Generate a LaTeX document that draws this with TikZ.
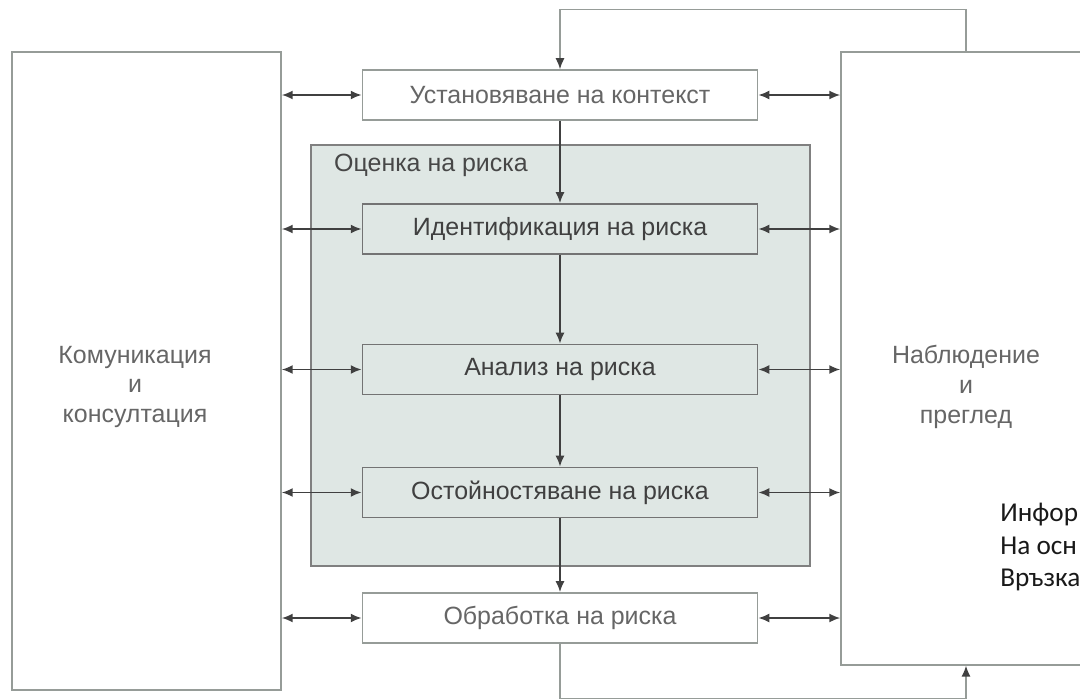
\documentclass[tikz,border=0pt]{standalone}
\usepackage{fontspec}
\setmainfont{Liberation Sans}
\newfontfamily\notefont{Carlito}
\usetikzlibrary{arrows.meta, positioning}
\definecolor{assessfill}{RGB}{223,231,228}
\definecolor{frameline}{RGB}{150,156,152}

\begin{document}
\begin{tikzpicture}[x=0.02cm, y=-0.02cm,
                    every node/.style={font=\fontsize{14.2}{17}\selectfont},
                    bigbox/.style={draw=frameline, line width=0.8pt, fill=white,
                                   minimum width=#1, minimum height=12.6cm},
                    stepbox/.style={draw=black!55, line width=0.9pt,
                                    minimum width=7.9cm, minimum height=1cm, text=black!75},
                    flow/.style={draw=black!75, line width=1.1pt,
                                 -{Latex[length=2.2mm,width=1.8mm]}},
                    both/.style={draw=black!75, line width=1.1pt,
                                 {Latex[length=2.2mm,width=1.8mm]}-{Latex[length=2.2mm,width=1.8mm]}},
                    loop/.style={draw=frameline, line width=0.8pt,
                                 -{Latex[length=2.2mm,width=1.8mm,color=black!75]}}]
\useasboundingbox (0,0) rectangle (1080,700);

% side boxes
\node[bigbox=5.38cm, minimum height=12.76cm] (komm) at (146.5,371) {};
\node[text=black!60, align=center] (kommtxt) at (135,387) {Комуникация\\и\\консултация};
\node[bigbox=5cm, minimum height=12.26cm] (watch) at (966,358.5) {};
\node[text=black!60, align=center] (watchtxt) at (966,387) {Наблюдение\\и\\преглед};

% risk assessment area
\node[draw=black!50, line width=0.8pt, fill=assessfill,
      minimum width=9.98cm, minimum height=8.42cm] (assess) at (560.5,355.5) {};
\node[anchor=west, text=black!72] (assesstxt) at (328,165) {Оценка на риска};

% process steps
\node[stepbox, fill=white, draw=frameline, text=black!60] (ctx) at (560,95) {Установяване на контекст};
\node[stepbox] (ident) at (560,229) {Идентификация на риска};
\node[stepbox] (anal) at (560,369.5) {Анализ на риска};
\node[stepbox] (evalr) at (560,492.5) {Остойностяване на риска};
\node[stepbox, fill=white, draw=frameline, text=black!60] (treat) at (560,618) {Обработка на риска};

% main flow
\draw[flow] (ctx) -- (ident);
\draw[flow] (ident) -- (anal);
\draw[flow] (anal) -- (evalr);
\draw[flow] (evalr) -- (treat);

% feedback loops
\draw[loop] (watch.north) -- ++(0,-42) -| (ctx.north);
\draw[loop] (treat.south) -- ++(0,55) -| (watch.south);

% links to side boxes
\foreach \s in {ctx, ident, anal, evalr, treat} {
  \draw[both] (komm.east |- \s.west) -- (\s.west);
  \draw[both] (watch.west |- \s.east) -- (\s.east);
}

% pasted note
\node[fill=white, minimum width=1.84cm, minimum height=1.95cm] (notebg) at (1034,548) {};
\node[anchor=north west, align=left, inner sep=0pt, text=black!90,
      font=\notefont\fontsize{15.5}{18.5}\selectfont] (note) at (1000,503)
      {Инфор\\На осн\\Връзка};
\end{tikzpicture}
\end{document}
